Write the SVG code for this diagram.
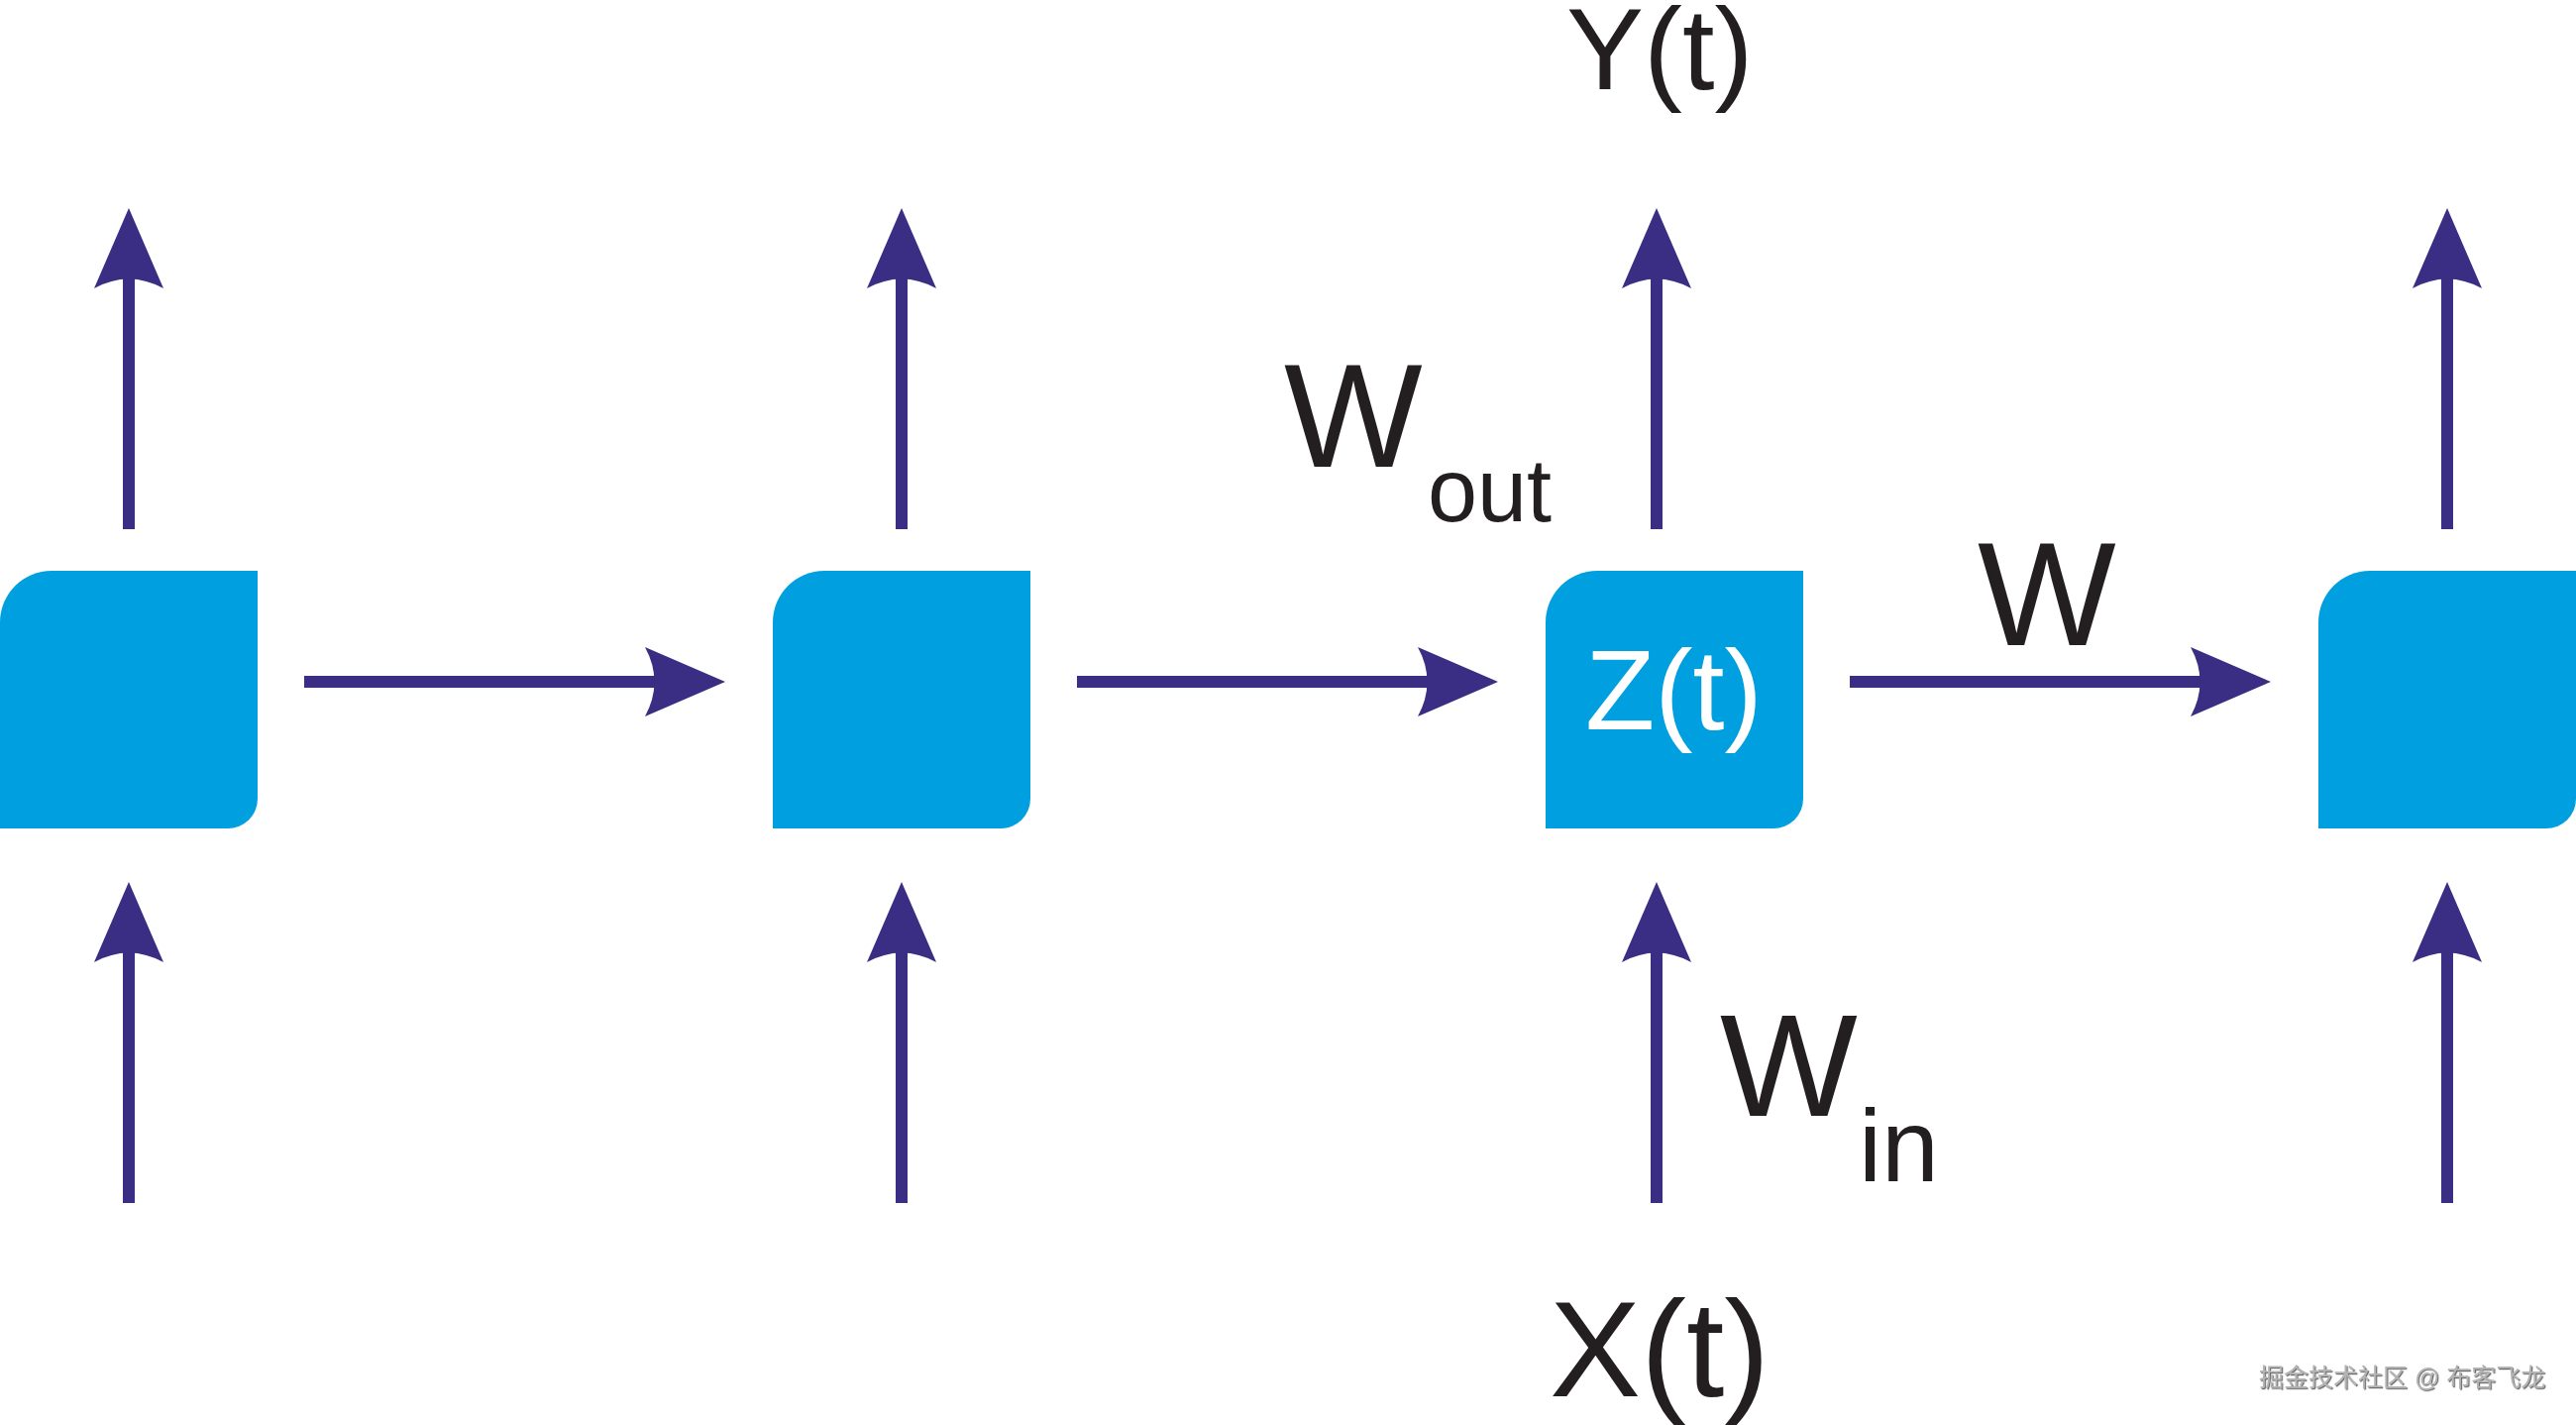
<svg xmlns="http://www.w3.org/2000/svg" width="2600" height="1438" viewBox="0 0 2600 1438">
  <defs>
    <style>
      .box { fill: #009fe0; }
      .wire { stroke: #392e83; stroke-width: 12; fill: none; stroke-linecap: butt; marker-end: url(#head); }
      .lbl { font-family: "Liberation Sans", Arial, Helvetica, sans-serif; fill: #231f20; }
      .inner { font-family: "Liberation Sans", Arial, Helvetica, sans-serif; fill: #ffffff; }
      .wm { font-family: "Liberation Sans", "Noto Sans CJK SC", sans-serif; font-size: 25px; fill: #b4b4b4; }
    </style>
    <marker id="head" viewBox="0 0 90 80" refX="10" refY="35" markerWidth="90" markerHeight="80" markerUnits="userSpaceOnUse" orient="auto" overflow="visible">
      <path d="M81,35 L0,0 Q19,35 0,70 Z" fill="#392e83"/>
    </marker>
    <filter id="emboss" x="-5%" y="-30%" width="110%" height="160%">
      <feDropShadow dx="1.2" dy="1.2" stdDeviation="0.4" flood-color="#555555" flood-opacity="0.9"/>
    </filter>
  </defs>
  <rect width="2600" height="1438" fill="#ffffff"/>

  <g id="node1">
    <path class="box" d="M0,628 A52,52 0 0 1 52,576 L260,576 L260,806 A30,30 0 0 1 230,836 L0,836 Z"/>
  </g>
  <g id="node2">
    <path class="box" d="M780,628 A52,52 0 0 1 832,576 L1040,576 L1040,806 A30,30 0 0 1 1010,836 L780,836 Z"/>
  </g>
  <g id="node3">
    <path class="box" d="M1560,628 A52,52 0 0 1 1612,576 L1820,576 L1820,806 A30,30 0 0 1 1790,836 L1560,836 Z"/>
    <text class="inner" x="1600" y="736" font-size="115">Z(t)</text>
  </g>
  <g id="node4">
    <path class="box" d="M2340,628 A52,52 0 0 1 2392,576 L2600,576 L2600,806 A30,30 0 0 1 2570,836 L2340,836 Z"/>
  </g>

  <g id="connectors">
    <!-- outputs (up) -->
    <line class="wire" x1="130" y1="534" x2="130" y2="281"/>
    <line class="wire" x1="910" y1="534" x2="910" y2="281"/>
    <line class="wire" x1="1672" y1="534" x2="1672" y2="281"/>
    <line class="wire" x1="2470" y1="534" x2="2470" y2="281"/>
    <!-- inputs (up) -->
    <line class="wire" x1="130" y1="1214" x2="130" y2="961"/>
    <line class="wire" x1="910" y1="1214" x2="910" y2="961"/>
    <line class="wire" x1="1672" y1="1214" x2="1672" y2="961"/>
    <line class="wire" x1="2470" y1="1214" x2="2470" y2="961"/>
    <!-- recurrent (right) -->
    <line class="wire" x1="307" y1="688" x2="661" y2="688"/>
    <line class="wire" x1="1087" y1="688" x2="1441" y2="688"/>
    <line class="wire" x1="1867" y1="688" x2="2221" y2="688"/>
  </g>

  <g id="labels">
    <text class="lbl" x="1581" y="90" font-size="117">Y(t)</text>
    <text class="lbl" x="1296" y="471" font-size="148">W<tspan x="1441" y="526" font-size="90">out</tspan></text>
    <text class="lbl" x="1996" y="651" font-size="148">W</text>
    <text class="lbl" x="1736" y="1126" font-size="147">W<tspan x="1876" y="1192" font-size="104">in</tspan></text>
    <text class="lbl" x="1564" y="1409" font-size="138">X(t)</text>
  </g>

  <g id="watermark">
    <text class="wm" x="2280" y="1399" filter="url(#emboss)">掘金技术社区 @ 布客飞龙</text>
  </g>
</svg>
